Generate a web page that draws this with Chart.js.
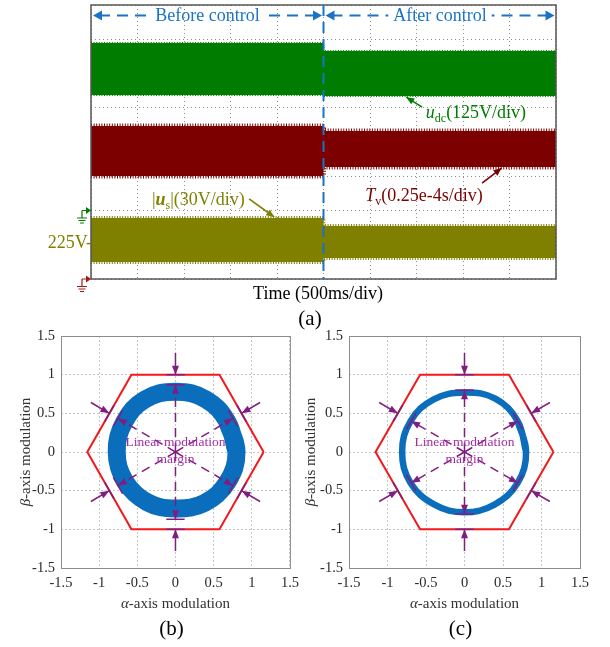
<!DOCTYPE html>
<html>
<head>
<meta charset="utf-8">
<script src="https://cdn.jsdelivr.net/npm/chart.js@4.4.1/dist/chart.umd.min.js"></script>
<style>
  html, body { margin: 0; padding: 0; background: #fff; }
  #figure { position: relative; width: 610px; height: 647px; overflow: hidden; }
  #figure canvas { position: absolute; }
  #scope { left: 0; top: 0; }
  #svmBefore { left: 0; top: 320px; }
  #svmAfter { left: 300px; top: 320px; }
</style>
</head>
<body>
<div id="figure">
  <canvas id="scope" width="610" height="335" style="width:610px;height:335px"></canvas>
  <canvas id="svmBefore" width="305" height="327" style="width:305px;height:327px"></canvas>
  <canvas id="svmAfter" width="310" height="327" style="width:310px;height:327px"></canvas>
</div>
<script>
// (a) scope capture, in screen divisions (10 x 8)
const phases = ['Before control', 'After control'];
const timeDivs = [0, 5, 10];          // start, control enabled, end
const udcUpper = [6.89, 6.66];
const udcLower = [5.37, 5.34];
const tvUpper = [4.47, 4.32];
const tvLower = [3.01, 3.27];
const usUpper = [1.78, 1.55];
const usLower = [0.50, 0.61];
const groundLevels = [2, 0];          // udc and Tv channel references
const usRefLevel = 1.05;              // 225V marker

// (b), (c) alpha/beta modulation plane
const modTicks = [-1.5, -1, -0.5, 0, 0.5, 1, 1.5];
const hexAlpha = [1.155, 0.577, -0.577, -1.155, -0.577, 0.577, 1.155];
const hexBeta = [0, 1, 1, 0, -1, -1, 0];
const ringBeforeAlpha = [0.80, 0.68, 0.40, 0, -0.40, -0.67, -0.77, -0.66, -0.37, 0, 0.38, 0.68];
const ringBeforeBeta = [0, 0.39, 0.68, 0.78, 0.68, 0.39, 0, -0.38, -0.65, -0.73, -0.66, -0.39];
const ringAfterAlpha = [0.80, 0.69, 0.40, 0, -0.40, -0.70, -0.81, -0.70, -0.39, 0, 0.39, 0.69];
const ringAfterBeta = [0, 0.40, 0.69, 0.77, 0.68, 0.40, 0, -0.40, -0.68, -0.78, -0.68, -0.40];
const marginAngles = [90, 30, -30, -90, -150, 150];
const hexEdgeRadius = 1.0;

const FONT = '"Liberation Serif", "Times New Roman", serif';
const BLUE = '#1b73c6';
const GREEN = '#007d00';
const DRED = '#7d0000';
const OLIVE = '#7f7f00';
const PURPLE = '#7e1e80';

Chart.defaults.font.family = FONT;

function arrowHead(ctx, x, y, dx, dy, len, half) {
  const n = Math.hypot(dx, dy);
  dx /= n; dy /= n;
  ctx.beginPath();
  ctx.moveTo(x, y);
  ctx.lineTo(x - dx * len - dy * half, y - dy * len + dx * half);
  ctx.lineTo(x - dx * len + dy * half, y - dy * len - dx * half);
  ctx.closePath();
  ctx.fill();
}

function seg(ctx, x0, y0, x1, y1) {
  ctx.beginPath();
  ctx.moveTo(x0, y0);
  ctx.lineTo(x1, y1);
  ctx.stroke();
}

// parts: [text, font, baseline shift]
function richText(ctx, parts, x, y, align) {
  let w = 0;
  parts.forEach(p => { ctx.font = p[1]; w += ctx.measureText(p[0]).width; });
  let cx = align === 'center' ? x - w / 2 : align === 'right' ? x - w : x;
  ctx.textAlign = 'left';
  ctx.textBaseline = 'alphabetic';
  parts.forEach(p => {
    ctx.font = p[1];
    ctx.fillText(p[0], cx, y + (p[2] || 0));
    cx += ctx.measureText(p[0]).width;
  });
}

function stepSeries(vals) {
  return [
    { x: timeDivs[0], y: vals[0] }, { x: timeDivs[1], y: vals[0] },
    { x: timeDivs[1], y: vals[1] }, { x: timeDivs[2], y: vals[1] }
  ];
}

function band(upper, lower, color, fuzz) {
  const edge = { borderColor: color, backgroundColor: color, borderWidth: fuzz,
    borderDash: [1, 1.6], pointRadius: 0, tension: 0 };
  return [
    { ...edge, data: stepSeries(upper), fill: false },
    { ...edge, data: stepSeries(lower), fill: '-1' }
  ];
}

function groundMark(ctx, xEdge, yLevel, color) {
  ctx.save();
  ctx.strokeStyle = color;
  ctx.fillStyle = color;
  ctx.lineWidth = 1.2;
  ctx.setLineDash([]);
  const xs = xEdge - 9;
  ctx.beginPath();
  ctx.moveTo(xs, yLevel); ctx.lineTo(xEdge - 4, yLevel);
  ctx.moveTo(xs, yLevel); ctx.lineTo(xs, yLevel + 7);
  ctx.moveTo(xs - 5, yLevel + 7.5); ctx.lineTo(xs + 5, yLevel + 7.5);
  ctx.moveTo(xs - 3.5, yLevel + 10); ctx.lineTo(xs + 3.5, yLevel + 10);
  ctx.moveTo(xs - 2, yLevel + 12.5); ctx.lineTo(xs + 2, yLevel + 12.5);
  ctx.stroke();
  arrowHead(ctx, xEdge, yLevel, 1, 0, 5, 3.5);
  ctx.restore();
}

const scopeAnnotations = {
  id: 'scopeAnnotations',
  afterDraw(chart) {
    const { ctx, chartArea: area, scales: { x, y } } = chart;
    const px = v => x.getPixelForValue(v);
    const py = v => y.getPixelForValue(v);
    ctx.save();

    // frame
    ctx.strokeStyle = '#555';
    ctx.lineWidth = 1.5;
    ctx.strokeRect(area.left, area.top, area.right - area.left, area.bottom - area.top);

    // control switch-on instant
    const xs = px(timeDivs[1]);
    ctx.strokeStyle = BLUE;
    ctx.fillStyle = BLUE;
    ctx.lineWidth = 2;
    ctx.setLineDash([11, 6]);
    seg(ctx, xs, area.top, xs, area.bottom);

    // phase spans along the top
    const yRow = py(7.69);
    phases.forEach((name, i) => {
      const x0 = px(timeDivs[i]) + 2;
      const x1 = px(timeDivs[i + 1]) - 1.5;
      const xm = (x0 + x1) / 2;
      ctx.font = '18px ' + FONT;
      const w = ctx.measureText(name).width;
      ctx.setLineDash([11, 7]);
      seg(ctx, x0 + 6, yRow, xm - w / 2 - 5, yRow);
      seg(ctx, x1 - 6, yRow, xm + w / 2 + 5, yRow);
      ctx.setLineDash([]);
      arrowHead(ctx, x0, yRow, -1, 0, 9, 5);
      arrowHead(ctx, x1, yRow, 1, 0, 9, 5);
      ctx.textAlign = 'center';
      ctx.textBaseline = 'middle';
      ctx.fillText(name, xm, yRow + 1);
    });

    // channel labels and pointers
    const labels = [
      { color: GREEN, at: [7.20, 4.70], tail: [7.12, 5.02], tip: [6.78, 5.31],
        parts: [['u', 'italic 18px ' + FONT], ['dc', '12px ' + FONT, 4], ['(125V/div)', '18px ' + FONT]] },
      { color: DRED, at: [5.90, 2.28], tail: [8.41, 2.80], tip: [8.83, 3.24],
        parts: [['T', 'italic 18px ' + FONT], ['v', '12px ' + FONT, 4], ['(0.25e-4s/div)', '18px ' + FONT]] },
      { color: OLIVE, at: [1.31, 2.16], tail: [3.40, 2.34], tip: [3.94, 1.81],
        parts: [['|', '18px ' + FONT], ['u', 'italic bold 18px ' + FONT], ['s', '12px ' + FONT, 4],
                ['|(30V/div)', '18px ' + FONT]] }
    ];
    labels.forEach(l => {
      ctx.fillStyle = l.color;
      ctx.strokeStyle = l.color;
      ctx.lineWidth = 1.6;
      richText(ctx, l.parts, px(l.at[0]), py(l.at[1]), 'left');
      const tx = px(l.tip[0]), ty = py(l.tip[1]);
      seg(ctx, px(l.tail[0]), py(l.tail[1]), tx, ty);
      arrowHead(ctx, tx, ty, tx - px(l.tail[0]), ty - py(l.tail[1]), 8, 3.5);
    });

    // channel references on the left edge
    groundMark(ctx, area.left, py(groundLevels[0]), GREEN);
    groundMark(ctx, area.left, py(groundLevels[1]), '#a01c1c');
    ctx.fillStyle = OLIVE;
    ctx.font = '18px ' + FONT;
    ctx.textAlign = 'right';
    ctx.textBaseline = 'middle';
    ctx.fillText('225V-', area.left + 1, py(usRefLevel));

    // captions
    ctx.fillStyle = '#000';
    ctx.textAlign = 'center';
    ctx.textBaseline = 'alphabetic';
    ctx.font = '18px ' + FONT;
    ctx.fillText('Time (500ms/div)', 318, 299);
    ctx.font = '21px ' + FONT;
    ctx.fillText('(a)', 310, 325);
    ctx.restore();
  }
};

const scopeAxis = (max, dim) => ({
  type: 'linear', min: 0, max,
  ticks: { display: false, stepSize: 1 },
  grid: { color: '#8e8e8e', lineWidth: 1, drawTicks: false },
  border: { display: false, dash: [1, 3] },
  afterFit: s => { s[dim] = 0; }
});

new Chart(document.getElementById('scope'), {
  type: 'line',
  data: {
    datasets: [
      ...band(udcUpper, udcLower, GREEN, 2),
      ...band(tvUpper, tvLower, DRED, 5),
      ...band(usUpper, usLower, OLIVE, 4)
    ]
  },
  options: {
    responsive: false,
    animation: false,
    events: [],
    layout: { padding: { left: 91, top: 5, right: 54, bottom: 56 } },
    plugins: { legend: { display: false }, tooltip: { enabled: false } },
    scales: { x: scopeAxis(10, 'height'), y: scopeAxis(8, 'width') }
  },
  plugins: [scopeAnnotations]
});

function marginMarks(ringOuter, caption, betaX) {
  return {
    id: 'marginMarks',
    afterDraw(chart) {
      const { ctx, chartArea: area, scales: { x, y } } = chart;
      const pt = (r, deg) => {
        const a = deg * Math.PI / 180;
        return [x.getPixelForValue(r * Math.cos(a)), y.getPixelForValue(r * Math.sin(a))];
      };
      ctx.save();
      ctx.strokeStyle = '#8c8c8c';
      ctx.lineWidth = 1;
      ctx.strokeRect(area.left + 0.5, area.top + 0.5, area.right - area.left, area.bottom - area.top);

      ctx.strokeStyle = PURPLE;
      ctx.fillStyle = PURPLE;
      ctx.lineWidth = 1.5;
      const half = 0.12;
      marginAngles.forEach(deg => {
        const c = pt(0, deg);
        const far = pt(1.28, deg);
        const edge = pt(hexEdgeRadius, deg);
        const ring = pt(ringOuter, deg);
        ctx.setLineDash([9, 6]);
        seg(ctx, c[0], c[1], ring[0], ring[1]);
        ctx.setLineDash([]);
        seg(ctx, far[0], far[1], edge[0], edge[1]);
        arrowHead(ctx, edge[0], edge[1], edge[0] - far[0], edge[1] - far[1], 9, 3.5);
        arrowHead(ctx, ring[0], ring[1], ring[0] - c[0], ring[1] - c[1], 9, 3.5);
        [hexEdgeRadius, ringOuter].forEach(r => {
          const a = deg * Math.PI / 180;
          const ox = -Math.sin(a) * half, oy = Math.cos(a) * half;
          const bx = r * Math.cos(a), by = r * Math.sin(a);
          seg(ctx, x.getPixelForValue(bx - ox), y.getPixelForValue(by - oy),
                   x.getPixelForValue(bx + ox), y.getPixelForValue(by + oy));
        });
      });

      ctx.fillStyle = '#a22ea5';
      ctx.font = '13.5px ' + FONT;
      ctx.textAlign = 'center';
      ctx.textBaseline = 'middle';
      ctx.fillText('Linear modulation', x.getPixelForValue(0), y.getPixelForValue(0.12));
      ctx.fillText('margin', x.getPixelForValue(0), y.getPixelForValue(-0.09));

      // axis titles and caption
      const xc = (area.left + area.right) / 2;
      const yc = (area.top + area.bottom) / 2;
      ctx.fillStyle = '#333';
      richText(ctx, [['\u03b1', 'italic 15px ' + FONT], ['-axis modulation', '15px ' + FONT]], xc, 288, 'center');
      ctx.save();
      ctx.translate(betaX, yc);
      ctx.rotate(-Math.PI / 2);
      richText(ctx, [['\u03b2', 'italic 15px ' + FONT], ['-axis modulation', '15px ' + FONT]], 0, 5, 'center');
      ctx.restore();
      ctx.fillStyle = '#000';
      ctx.font = '21px ' + FONT;
      ctx.textAlign = 'center';
      ctx.textBaseline = 'alphabetic';
      ctx.fillText(caption, xc - 4, 315);
      ctx.restore();
    }
  };
}

function modAxis(dim, size) {
  return {
    type: 'linear', min: -1.5, max: 1.5,
    afterBuildTicks: s => { s.ticks = modTicks.map(v => ({ value: v })); },
    afterFit: s => { s[dim] = size; },
    grid: { color: '#c6c6c6', lineWidth: 1, drawTicks: false },
    border: { display: false, dash: [2, 2] },
    ticks: { color: '#2a2a2a', font: { size: 14.5 }, padding: 6, callback: v => String(v) }
  };
}

function svmChart(id, ringA, ringB, ringWidth, ringOuter, leftSize, rightPad, caption, betaX) {
  const ring = ringA.map((a, i) => ({ x: a, y: ringB[i] }));
  ring.push(ring[0], ring[1]);
  const hex = hexAlpha.map((a, i) => ({ x: a, y: hexBeta[i] }));
  return new Chart(document.getElementById(id), {
    type: 'scatter',
    data: {
      datasets: [
        { data: ring, showLine: true, borderColor: '#0a6ebd', borderWidth: ringWidth,
          tension: 0.4, pointRadius: 0, borderJoinStyle: 'round', borderCapStyle: 'round' },
        { data: hex, showLine: true, borderColor: '#f2181d', borderWidth: 2,
          tension: 0, pointRadius: 0 }
      ]
    },
    options: {
      responsive: false,
      animation: false,
      events: [],
      layout: { padding: { top: 16, right: rightPad, left: 0, bottom: 0 } },
      plugins: { legend: { display: false }, tooltip: { enabled: false } },
      scales: { x: modAxis('height', 79), y: modAxis('width', leftSize) }
    },
    plugins: [marginMarks(ringOuter, caption, betaX)]
  });
}

svmChart('svmBefore', ringBeforeAlpha, ringBeforeBeta, 18, 0.87, 61, 12, '(b)', 25);
svmChart('svmAfter', ringAfterAlpha, ringAfterBeta, 6.5, 0.80, 49, 30, '(c)', 10);
</script>
</body>
</html>
